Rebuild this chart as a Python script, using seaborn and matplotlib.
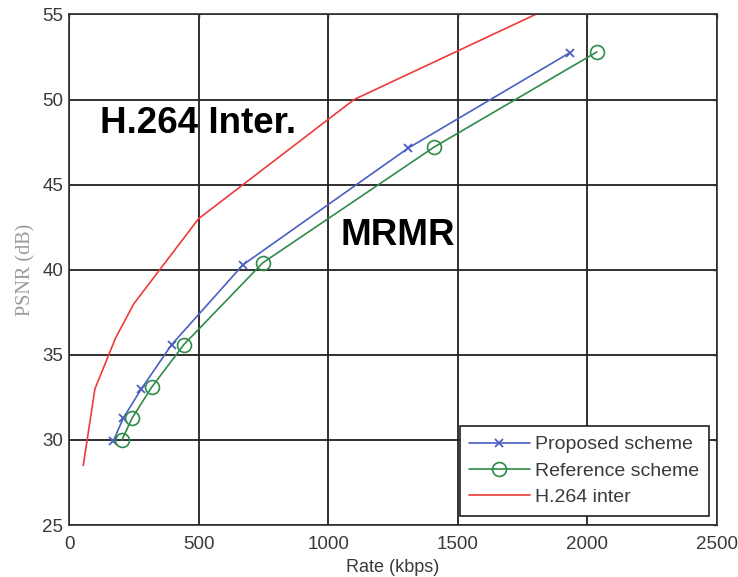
import matplotlib
matplotlib.use("Agg")
import matplotlib.pyplot as plt
import seaborn as sns
import pandas as pd

# Rate-distortion data (rate in kbps, PSNR in dB)
proposed_rate = [171, 210, 279, 396, 672, 1309, 1932]
proposed_psnr = [29.95, 31.3, 33.0, 35.6, 40.3, 47.15, 52.75]

reference_rate = [204, 244, 319, 443, 747, 1408, 2037]
reference_psnr = [30.0, 31.3, 33.1, 35.6, 40.4, 47.2, 52.8]

h264_rate = [55, 70, 100, 180, 250, 500, 1100, 1800]
h264_psnr = [28.5, 30.0, 33.0, 36.0, 38.0, 43.0, 50.0, 55.0]

series_names = ["Proposed scheme", "Reference scheme", "H.264 inter"]
x_ticks = [0, 500, 1000, 1500, 2000, 2500]
y_ticks = [25, 30, 35, 40, 45, 50, 55]

sns.set_theme(style="white")
plt.rcParams["font.family"] = ["Liberation Sans", "DejaVu Sans"]

fig = plt.figure(figsize=(7.38, 5.77), dpi=100)
ax = fig.add_axes([0.0935, 0.090, 0.878, 0.885])

df_p = pd.DataFrame({"rate": proposed_rate, "psnr": proposed_psnr})
df_r = pd.DataFrame({"rate": reference_rate, "psnr": reference_psnr})
df_h = pd.DataFrame({"rate": h264_rate, "psnr": h264_psnr})

blue, green, red = "#4a5fc1", "#2e8b4a", "#f03a3a"

sns.lineplot(data=df_p, x="rate", y="psnr", sort=False, ax=ax, color=blue,
             linewidth=1.2, marker="x", markersize=6, markeredgewidth=1.3,
             markeredgecolor=blue, label=series_names[0])
sns.lineplot(data=df_r, x="rate", y="psnr", sort=False, ax=ax, color=green,
             linewidth=1.2, marker="o", markersize=10, markerfacecolor="none",
             markeredgecolor=green, markeredgewidth=1.2,
             label=series_names[1])
sns.lineplot(data=df_h, x="rate", y="psnr", sort=False, ax=ax, color=red,
             linewidth=1.2, label=series_names[2])

ax.set_xlim(0, 2500)
ax.set_ylim(25, 55)
ax.set_xticks(x_ticks)
ax.set_yticks(y_ticks)
ax.grid(True, color="#202020", linewidth=1.3, linestyle="-")
ax.set_axisbelow(True)
for s in ax.spines.values():
    s.set_color("#303030")
    s.set_linewidth(1.2)
ax.tick_params(direction="in", top=True, right=True, length=3, width=1,
               colors="#303030", labelsize=13.5, labelcolor="#3a3a3a")
ax.tick_params(axis="x", pad=8)
ax.tick_params(axis="y", pad=4)

ax.set_xlabel("Rate (kbps)", fontsize=13, color="#3a3a3a", labelpad=4)
ax.set_ylabel("PSNR (dB)", fontsize=14.5, color="#9a9a9a",
              family=["Liberation Serif", "DejaVu Serif"], labelpad=5)

ax.text(120, 48.6, "H.264 Inter.", fontsize=26.5, fontweight="bold",
        color="black", va="center", ha="left")
ax.text(1049, 42.0, "MRMR", fontsize=26.5, fontweight="bold",
        color="black", va="center", ha="left")

leg = ax.legend(loc="lower right", fontsize=14, frameon=True, fancybox=False,
                edgecolor="#202020", framealpha=1, handlelength=3.1,
                borderpad=0.5, labelspacing=0.45, handletextpad=0.3,
                borderaxespad=0, bbox_to_anchor=(0.988, 0.018))
leg.get_frame().set_linewidth(1.2)
for t in leg.get_texts():
    t.set_color("#3a3a3a")

fig.savefig("out.png", dpi=100, facecolor="white")
